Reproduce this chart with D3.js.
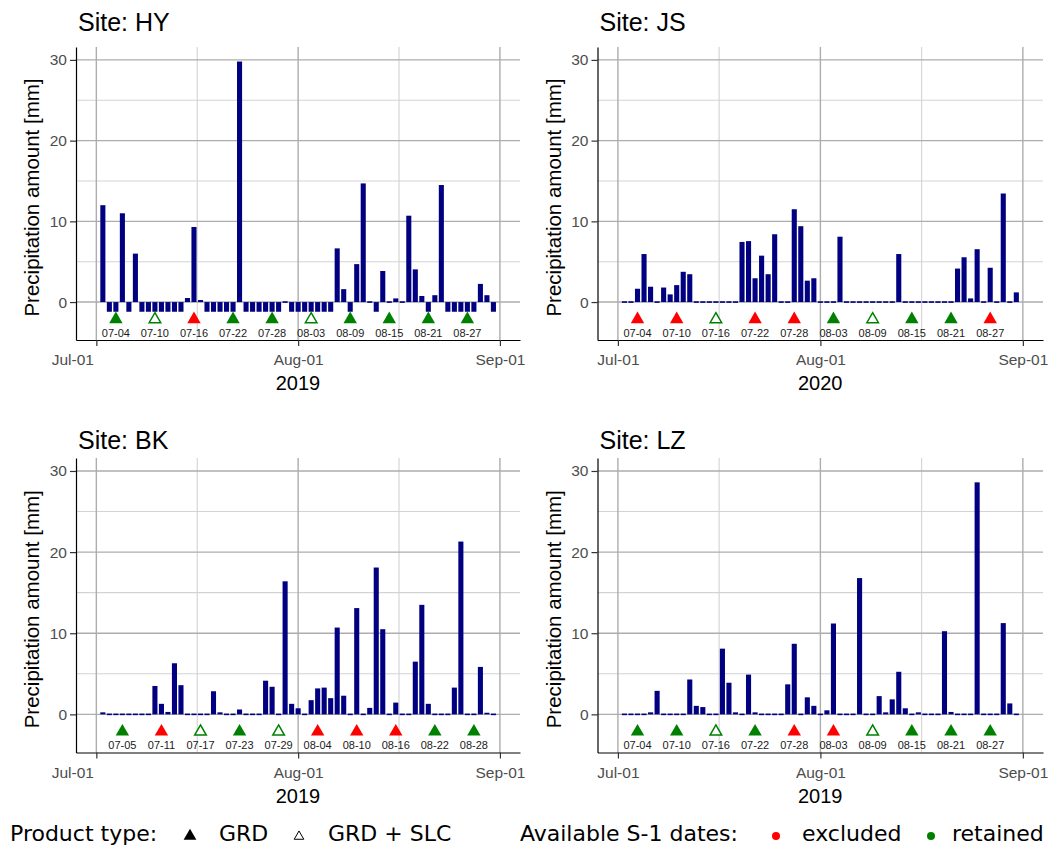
<!DOCTYPE html>
<html>
<head>
<meta charset="utf-8">
<script src="https://cdn.jsdelivr.net/npm/d3@7"></script>
<style>
  body { margin: 0; background: #fff; }
  svg { display: block; }
</style>
</head>
<body>
<svg id="chart" width="1062" height="847"></svg>
<script>
// Daily precipitation [mm], one value per day from 2 July to 31 August.
// null = no record for that day (shown as a short bar below zero).
const hyRain = [12.0, null, null, 11.0, null, 6.0, null, null, null, null, null, null, null,
  0.5, 9.3, 0.25, null, null, null, null, null, 29.8, null, null, null, null, null, null,
  0, null, null, null, null, null, null, null, 6.65, 1.6, null, 4.7, 14.7, 0, null, 3.85,
  0, 0.45, 0, 10.7, 4.05, 0.75, null, 0.85, 14.5, null, null, null, null, null, 2.25, 0.85, null];
const jsRain = [0, 0, 1.65, 5.95, 1.9, 0, 1.8, 0.95, 2.1, 3.75, 3.45, 0, 0, 0, 0, 0, 0, 0,
  7.45, 7.55, 2.95, 5.75, 3.45, 8.4, 0, 0, 11.5, 9.4, 2.65, 2.95, 0, 0, 0.12, 8.1, 0.1,
  0, 0, 0, 0, 0, 0, 0, 5.95, 0, 0, 0, 0, 0, 0, 0, 0, 4.15, 5.55, 0.45, 6.55, 0, 4.25, 0,
  13.45, 0, 1.2];
const bkRain = [0.25, 0, 0, 0, 0, 0, 0, 0, 3.5, 1.3, 0.3, 6.3, 3.6, 0, 0, 0, 0, 2.85, 0.25,
  0, 0, 0.6, 0, 0, 0, 4.15, 3.4, 0, 16.4, 1.3, 0.75, 0, 1.75, 3.2, 3.3, 2.0, 10.7, 2.3, 0,
  13.1, 0, 0.8, 18.1, 10.5, 0, 1.45, 0, 0, 6.5, 13.5, 1.3, 0, 0, 0, 3.3, 21.3, 0, 0, 5.85,
  0.2, 0];
const lzRain = [0, 0, 0, 0, 0.25, 2.9, 0, 0, 0, 0, 4.3, 1.05, 0.9, 0, 0, 8.1, 3.9, 0.25, 0,
  4.9, 0.25, 0, 0, 0, 0, 3.7, 8.7, 0, 2.1, 1.05, 0, 0.5, 11.2, 0, 0, 0, 16.8, 0, 0, 2.25,
  0.25, 1.85, 5.25, 0.75, 0, 0.25, 0, 0, 0, 10.25, 0.3, 0, 0, 0, 28.6, 0, 0, 0, 11.25,
  1.35, 0];

// Sentinel-1 acquisition dates per site
const hyS1Dates = ["07-04", "07-10", "07-16", "07-22", "07-28", "08-03", "08-09", "08-15", "08-21", "08-27"];
const hyS1Status = ["retained", "retained", "excluded", "retained", "retained", "retained", "retained", "retained", "retained", "retained"];
const hyS1Product = ["GRD", "GRD + SLC", "GRD", "GRD", "GRD", "GRD + SLC", "GRD", "GRD", "GRD", "GRD"];

const jsS1Dates = ["07-04", "07-10", "07-16", "07-22", "07-28", "08-03", "08-09", "08-15", "08-21", "08-27"];
const jsS1Status = ["excluded", "excluded", "retained", "excluded", "excluded", "retained", "retained", "retained", "retained", "excluded"];
const jsS1Product = ["GRD", "GRD", "GRD + SLC", "GRD", "GRD", "GRD", "GRD + SLC", "GRD", "GRD", "GRD"];

const bkS1Dates = ["07-05", "07-11", "07-17", "07-23", "07-29", "08-04", "08-10", "08-16", "08-22", "08-28"];
const bkS1Status = ["retained", "excluded", "retained", "retained", "retained", "excluded", "excluded", "excluded", "retained", "retained"];
const bkS1Product = ["GRD", "GRD", "GRD + SLC", "GRD", "GRD + SLC", "GRD", "GRD", "GRD", "GRD", "GRD"];

const lzS1Dates = ["07-04", "07-10", "07-16", "07-22", "07-28", "08-03", "08-09", "08-15", "08-21", "08-27"];
const lzS1Status = ["retained", "retained", "retained", "retained", "excluded", "excluded", "retained", "retained", "retained", "retained"];
const lzS1Product = ["GRD", "GRD", "GRD + SLC", "GRD", "GRD", "GRD", "GRD + SLC", "GRD", "GRD", "GRD"];

const siteNames = ["HY", "JS", "BK", "LZ"];
const siteYears = [2019, 2020, 2019, 2019];
const yTicks = [0, 10, 20, 30];
const yMinorTicks = [-5, 5, 15, 25];
const xTickLabels = ["Jul-01", "Aug-01", "Sep-01"];
const yTitle = "Precipitation amount [mm]";

const sites = [
  { rain: hyRain, dates: hyS1Dates, status: hyS1Status, product: hyS1Product },
  { rain: jsRain, dates: jsS1Dates, status: jsS1Status, product: jsS1Product },
  { rain: bkRain, dates: bkS1Dates, status: bkS1Status, product: bkS1Product },
  { rain: lzRain, dates: lzS1Dates, status: lzS1Status, product: lzS1Product }
].map((s, i) => ({ ...s, name: siteNames[i], year: siteYears[i] }));

// ---- layout & style ----
const panelBoxes = [
  { x0: 76, x1: 520, y0: 47, y1: 340, titleY: 31, firstTickShift: -24 },
  { x0: 597.5, x1: 1043, y0: 47, y1: 340, titleY: 31, firstTickShift: 0 },
  { x0: 76, x1: 520, y0: 458, y1: 752.5, titleY: 449, firstTickShift: -24 },
  { x0: 597.5, x1: 1043, y0: 458, y1: 752.5, titleY: 449, firstTickShift: 0 }
];
const BAR_COLOR = "#000080";
const RED = "#ff0000";
const GREEN = "#008000";
const PLOT_FONT = "'Liberation Sans', Arial, Helvetica, sans-serif";
const LEGEND_FONT = "'DejaVu Sans', sans-serif";
const missingDepth = -1.2;   // drawn depth for days without a record
const pad = 3.1;             // days of padding either side of the date range
const minBarPx = 1.6;        // zero-precipitation days still show a thin dash

const svg = d3.select("#chart");
const parseDay = d3.timeParse("%Y-%m-%d");
const parseTick = d3.timeParse("%Y-%b-%d");

sites.forEach((site, i) => {
  const box = panelBoxes[i];
  const yr = site.year;
  const jul1 = new Date(yr, 6, 1);
  const sep1 = new Date(yr, 8, 1);

  const x = d3.scaleTime()
    .domain([d3.timeHour.offset(jul1, -pad * 24), d3.timeHour.offset(sep1, pad * 24)])
    .range([box.x0, box.x1]);
  const y = d3.scaleLinear().domain([-4.7, 31.6]).range([box.y1, box.y0]);
  const dayW = x(d3.timeDay.offset(jul1, 1)) - x(jul1);
  const barW = dayW * 0.78;

  const g = svg.append("g");

  // minor grid
  const midJul = d3.timeHour.offset(jul1, 15.5 * 24);
  const midAug = d3.timeHour.offset(new Date(yr, 7, 1), 15.5 * 24);
  g.selectAll(".vminor").data([midJul, midAug]).join("line")
    .attr("x1", d => x(d)).attr("x2", d => x(d))
    .attr("y1", box.y0).attr("y2", box.y1)
    .attr("stroke", "#d3d3d3").attr("stroke-width", 1.1);
  g.selectAll(".hminor").data(yMinorTicks.filter(v => y(v) <= box.y1 && y(v) >= box.y0)).join("line")
    .attr("x1", box.x0).attr("x2", box.x1)
    .attr("y1", d => y(d)).attr("y2", d => y(d))
    .attr("stroke", "#d3d3d3").attr("stroke-width", 1.1);

  // major grid
  const majorDates = xTickLabels.map(t => parseTick(`${yr}-${t}`));
  g.selectAll(".vmajor").data(majorDates).join("line")
    .attr("x1", d => x(d)).attr("x2", d => x(d))
    .attr("y1", box.y0).attr("y2", box.y1)
    .attr("stroke", "#adadad").attr("stroke-width", 1.4);
  g.selectAll(".hmajor").data(yTicks).join("line")
    .attr("x1", box.x0).attr("x2", box.x1)
    .attr("y1", d => y(d)).attr("y2", d => y(d))
    .attr("stroke", "#adadad").attr("stroke-width", 1.4);

  // precipitation bars
  const start = new Date(yr, 6, 2);
  const rows = site.rain.map((v, k) => ({ date: d3.timeDay.offset(start, k), value: v }));
  const barTop = v => {
    const h = Math.abs(y(v) - y(0));
    if (h < minBarPx) return y(0) - minBarPx / 2;
    return Math.min(y(v), y(0));
  };
  const barHeight = v => Math.max(Math.abs(y(v) - y(0)), minBarPx);
  g.selectAll(".bar").data(rows).join("rect")
    .attr("x", d => x(d.date) - barW / 2)
    .attr("width", barW)
    .attr("y", d => barTop(d.value === null ? missingDepth : d.value))
    .attr("height", d => barHeight(d.value === null ? missingDepth : d.value))
    .attr("fill", BAR_COLOR);

  // Sentinel-1 dates: triangles + labels
  const s1 = site.dates.map((md, k) => ({
    date: parseDay(`${yr}-${md}`), label: md, status: site.status[k], product: site.product[k]
  }));
  const triFilled = d3.symbol(d3.symbolTriangle, 78)();
  const triOpen = d3.symbol(d3.symbolTriangle, 58)();
  g.selectAll(".s1").data(s1).join("path")
    .attr("transform", d => `translate(${x(d.date)},${y(0) + 17.3})`)
    .attr("d", d => d.product === "GRD" ? triFilled : triOpen)
    .attr("fill", d => d.product === "GRD" ? (d.status === "excluded" ? RED : GREEN) : "#fff")
    .attr("stroke", d => d.product === "GRD" ? "none" : (d.status === "excluded" ? RED : GREEN))
    .attr("stroke-width", 1.5);
  g.selectAll(".s1lab").data(s1).join("text")
    .attr("x", d => x(d.date)).attr("y", y(0) + 34.5)
    .attr("text-anchor", "middle")
    .attr("font-family", PLOT_FONT).attr("font-size", 11).attr("fill", "#1a1a1a")
    .text(d => d.label);

  // axes
  const yAxis = d3.axisLeft(y).tickValues(yTicks).tickSize(6).tickSizeOuter(0).tickPadding(3);
  const ya = g.append("g").attr("transform", `translate(${box.x0},0)`).call(yAxis);
  const xAxis = d3.axisBottom(x).tickValues(majorDates).tickFormat(d3.timeFormat("%b-%d"))
    .tickSize(6).tickSizeOuter(0).tickPadding(8);
  const xa = g.append("g").attr("transform", `translate(0,${box.y1})`).call(xAxis);
  [ya, xa].forEach(a => {
    a.select(".domain").attr("stroke", "#000").attr("stroke-width", 1.2);
    a.selectAll(".tick line").attr("stroke", "#333").attr("stroke-width", 1.2);
    a.selectAll(".tick text").attr("fill", "#4d4d4d")
      .attr("font-family", PLOT_FONT).attr("font-size", 15.5);
  });
  xa.selectAll(".tick text").filter((d, k) => k === 0).attr("dx", box.firstTickShift);

  // titles
  g.append("text")
    .attr("x", box.x0 + 2).attr("y", box.titleY)
    .attr("font-family", PLOT_FONT).attr("font-size", 25).attr("fill", "#000")
    .text(`Site: ${site.name}`);
  g.append("text")
    .attr("x", (box.x0 + box.x1) / 2).attr("y", box.y1 + 50)
    .attr("text-anchor", "middle")
    .attr("font-family", PLOT_FONT).attr("font-size", 20).attr("fill", "#000")
    .text(yr);
  g.append("text")
    .attr("transform", `translate(${box.x0 - 37},${(box.y0 + box.y1) / 2 + 4}) rotate(-90)`)
    .attr("text-anchor", "middle")
    .attr("font-family", PLOT_FONT).attr("font-size", 20.5).attr("fill", "#000")
    .text(yTitle);
});

// ---- legend ----
const legend = svg.append("g")
  .attr("font-family", LEGEND_FONT).attr("font-size", 22).attr("fill", "#000");
const legBase = 841;
legend.append("text").attr("x", 10).attr("y", legBase).text("Product type:");
legend.append("path")
  .attr("transform", `translate(190,${legBase - 5})`)
  .attr("d", d3.symbol(d3.symbolTriangle, 70)()).attr("fill", "#000");
legend.append("text").attr("x", 219).attr("y", legBase).text("GRD");
legend.append("path")
  .attr("transform", `translate(299,${legBase - 4.5})`)
  .attr("d", d3.symbol(d3.symbolTriangle, 40)()).attr("fill", "none")
  .attr("stroke", "#000").attr("stroke-width", 1);
legend.append("text").attr("x", 328).attr("y", legBase).text("GRD + SLC");

legend.append("text").attr("x", 520).attr("y", legBase).text("Available S-1 dates:");
legend.append("circle").attr("cx", 776).attr("cy", legBase - 5).attr("r", 4).attr("fill", RED);
legend.append("text").attr("x", 802).attr("y", legBase).text("excluded");
legend.append("circle").attr("cx", 931).attr("cy", legBase - 5).attr("r", 4).attr("fill", GREEN);
legend.append("text").attr("x", 952).attr("y", legBase).text("retained");
</script>
</body>
</html>
